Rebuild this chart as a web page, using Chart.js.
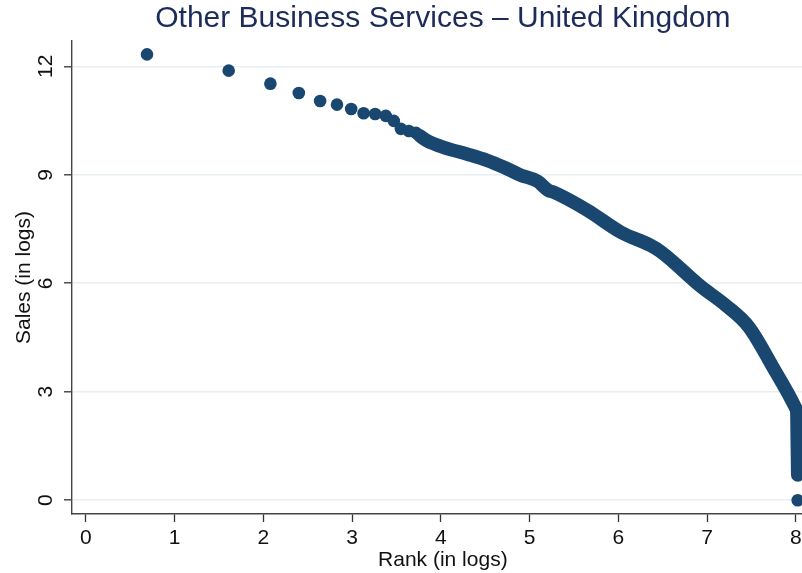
<!DOCTYPE html>
<html>
<head>
<meta charset="utf-8">
<script src="https://cdn.jsdelivr.net/npm/chart.js@4/dist/chart.umd.min.js"></script>
<style>
  html, body { margin: 0; padding: 0; overflow: hidden; background: #fff; }
</style>
</head>
<body>
<canvas id="rankChart" width="820" height="573"></canvas>
<script>
// top firms, drawn as separate dots
const rankHead = [0.69, 1.61, 2.08, 2.40, 2.64, 2.83, 2.99, 3.13, 3.26, 3.38, 3.47, 3.55, 3.64, 3.72, 8.02];
const salesHead = [12.33, 11.88, 11.52, 11.26, 11.04, 10.94, 10.82, 10.70, 10.68, 10.63, 10.49, 10.27, 10.21, 10.16, 0];

// the rest of the firms, so dense that the dots merge into a band
const rankTail = [3.76, 3.84, 4.03, 4.30, 4.52, 4.71, 4.90, 5.09, 5.21, 5.27, 5.65, 6.03, 6.36, 6.48, 6.93, 7.21, 7.47, 7.76, 7.91, 8.01];
const salesTail = [10.08, 9.95, 9.76, 9.57, 9.40, 9.21, 8.99, 8.82, 8.57, 8.52, 8.02, 7.41, 7.05, 6.87, 5.91, 5.39, 4.79, 3.60, 2.96, 2.49];

// smallest firms: the band drops straight down at the end
const rankDrop = [8.01, 8.02];
const salesDrop = [2.49, 0.70];

const xTicks = [0, 1, 2, 3, 4, 5, 6, 7, 8];
const yTicks = [0, 3, 6, 9, 12];

const navy = "#1a476f";
const font = "'Liberation Sans', Arial, sans-serif";

const toPoints = (xs, ys) => xs.map((x, i) => ({ x: x, y: ys[i] }));

const band = {
  showLine: true,
  borderColor: navy,
  borderWidth: 13.5,
  borderCapStyle: "round",
  borderJoinStyle: "round",
  pointRadius: 0,
};

const ctx = document.getElementById("rankChart").getContext("2d");
const rankChart = new Chart(ctx, {
  type: "scatter",
  data: {
    datasets: [
      Object.assign({}, band, {
        label: "dense",
        data: toPoints(rankTail, salesTail),
        cubicInterpolationMode: "monotone",
      }),
      Object.assign({}, band, {
        label: "drop",
        data: toPoints(rankDrop, salesDrop),
        tension: 0,
      }),
      {
        label: "firms",
        data: toPoints(rankHead, salesHead),
        backgroundColor: navy,
        borderWidth: 0,
        pointRadius: 6.3,
      },
    ],
  },
  options: {
    responsive: false,
    animation: false,
    layout: { padding: 0 },
    plugins: {
      legend: { display: false },
      tooltip: { enabled: false },
      title: {
        display: true,
        text: "Other Business Services \u2013 United Kingdom",
        fullSize: false,
        color: "#1c2b5a",
        font: { family: font, size: 30, weight: "normal" },
        padding: { top: 1, bottom: 4 },
      },
    },
    scales: {
      x: {
        type: "linear",
        min: -0.155,
        max: 8.2,
        afterBuildTicks: (s) => {
          s.ticks = xTicks.map((v) => ({ value: v }));
        },
        afterFit: (s) => {
          s.height = 59;
        },
        grid: {
          drawOnChartArea: false,
          tickLength: 8,
          tickColor: "#333",
          tickWidth: 1.3,
        },
        border: { display: true, color: "#444", width: 1.4 },
        ticks: {
          color: "#111",
          font: { family: font, size: 21 },
          padding: 4,
          maxRotation: 0,
        },
        title: {
          display: true,
          text: "Rank (in logs)",
          color: "#111",
          font: { family: font, size: 21 },
          padding: { top: 0, bottom: 0 },
        },
      },
      y: {
        type: "linear",
        min: -0.38,
        max: 12.7,
        afterBuildTicks: (s) => {
          s.ticks = yTicks.map((v) => ({ value: v }));
        },
        afterFit: (s) => {
          s.width = 72;
        },
        grid: {
          color: "#e9f0f3",
          lineWidth: 1.6,
          tickLength: 8,
          tickColor: "#333",
          tickWidth: 1.3,
        },
        border: { display: true, color: "#444", width: 1.4 },
        ticks: {
          color: "#111",
          font: { family: font, size: 21 },
          padding: 6,
          minRotation: 90,
          maxRotation: 90,
          crossAlign: "center",
        },
        title: {
          display: true,
          text: "Sales (in logs)",
          color: "#111",
          font: { family: font, size: 21 },
          padding: { top: 11.5, bottom: 0 },
        },
      },
    },
  },
});
</script>
</body>
</html>
